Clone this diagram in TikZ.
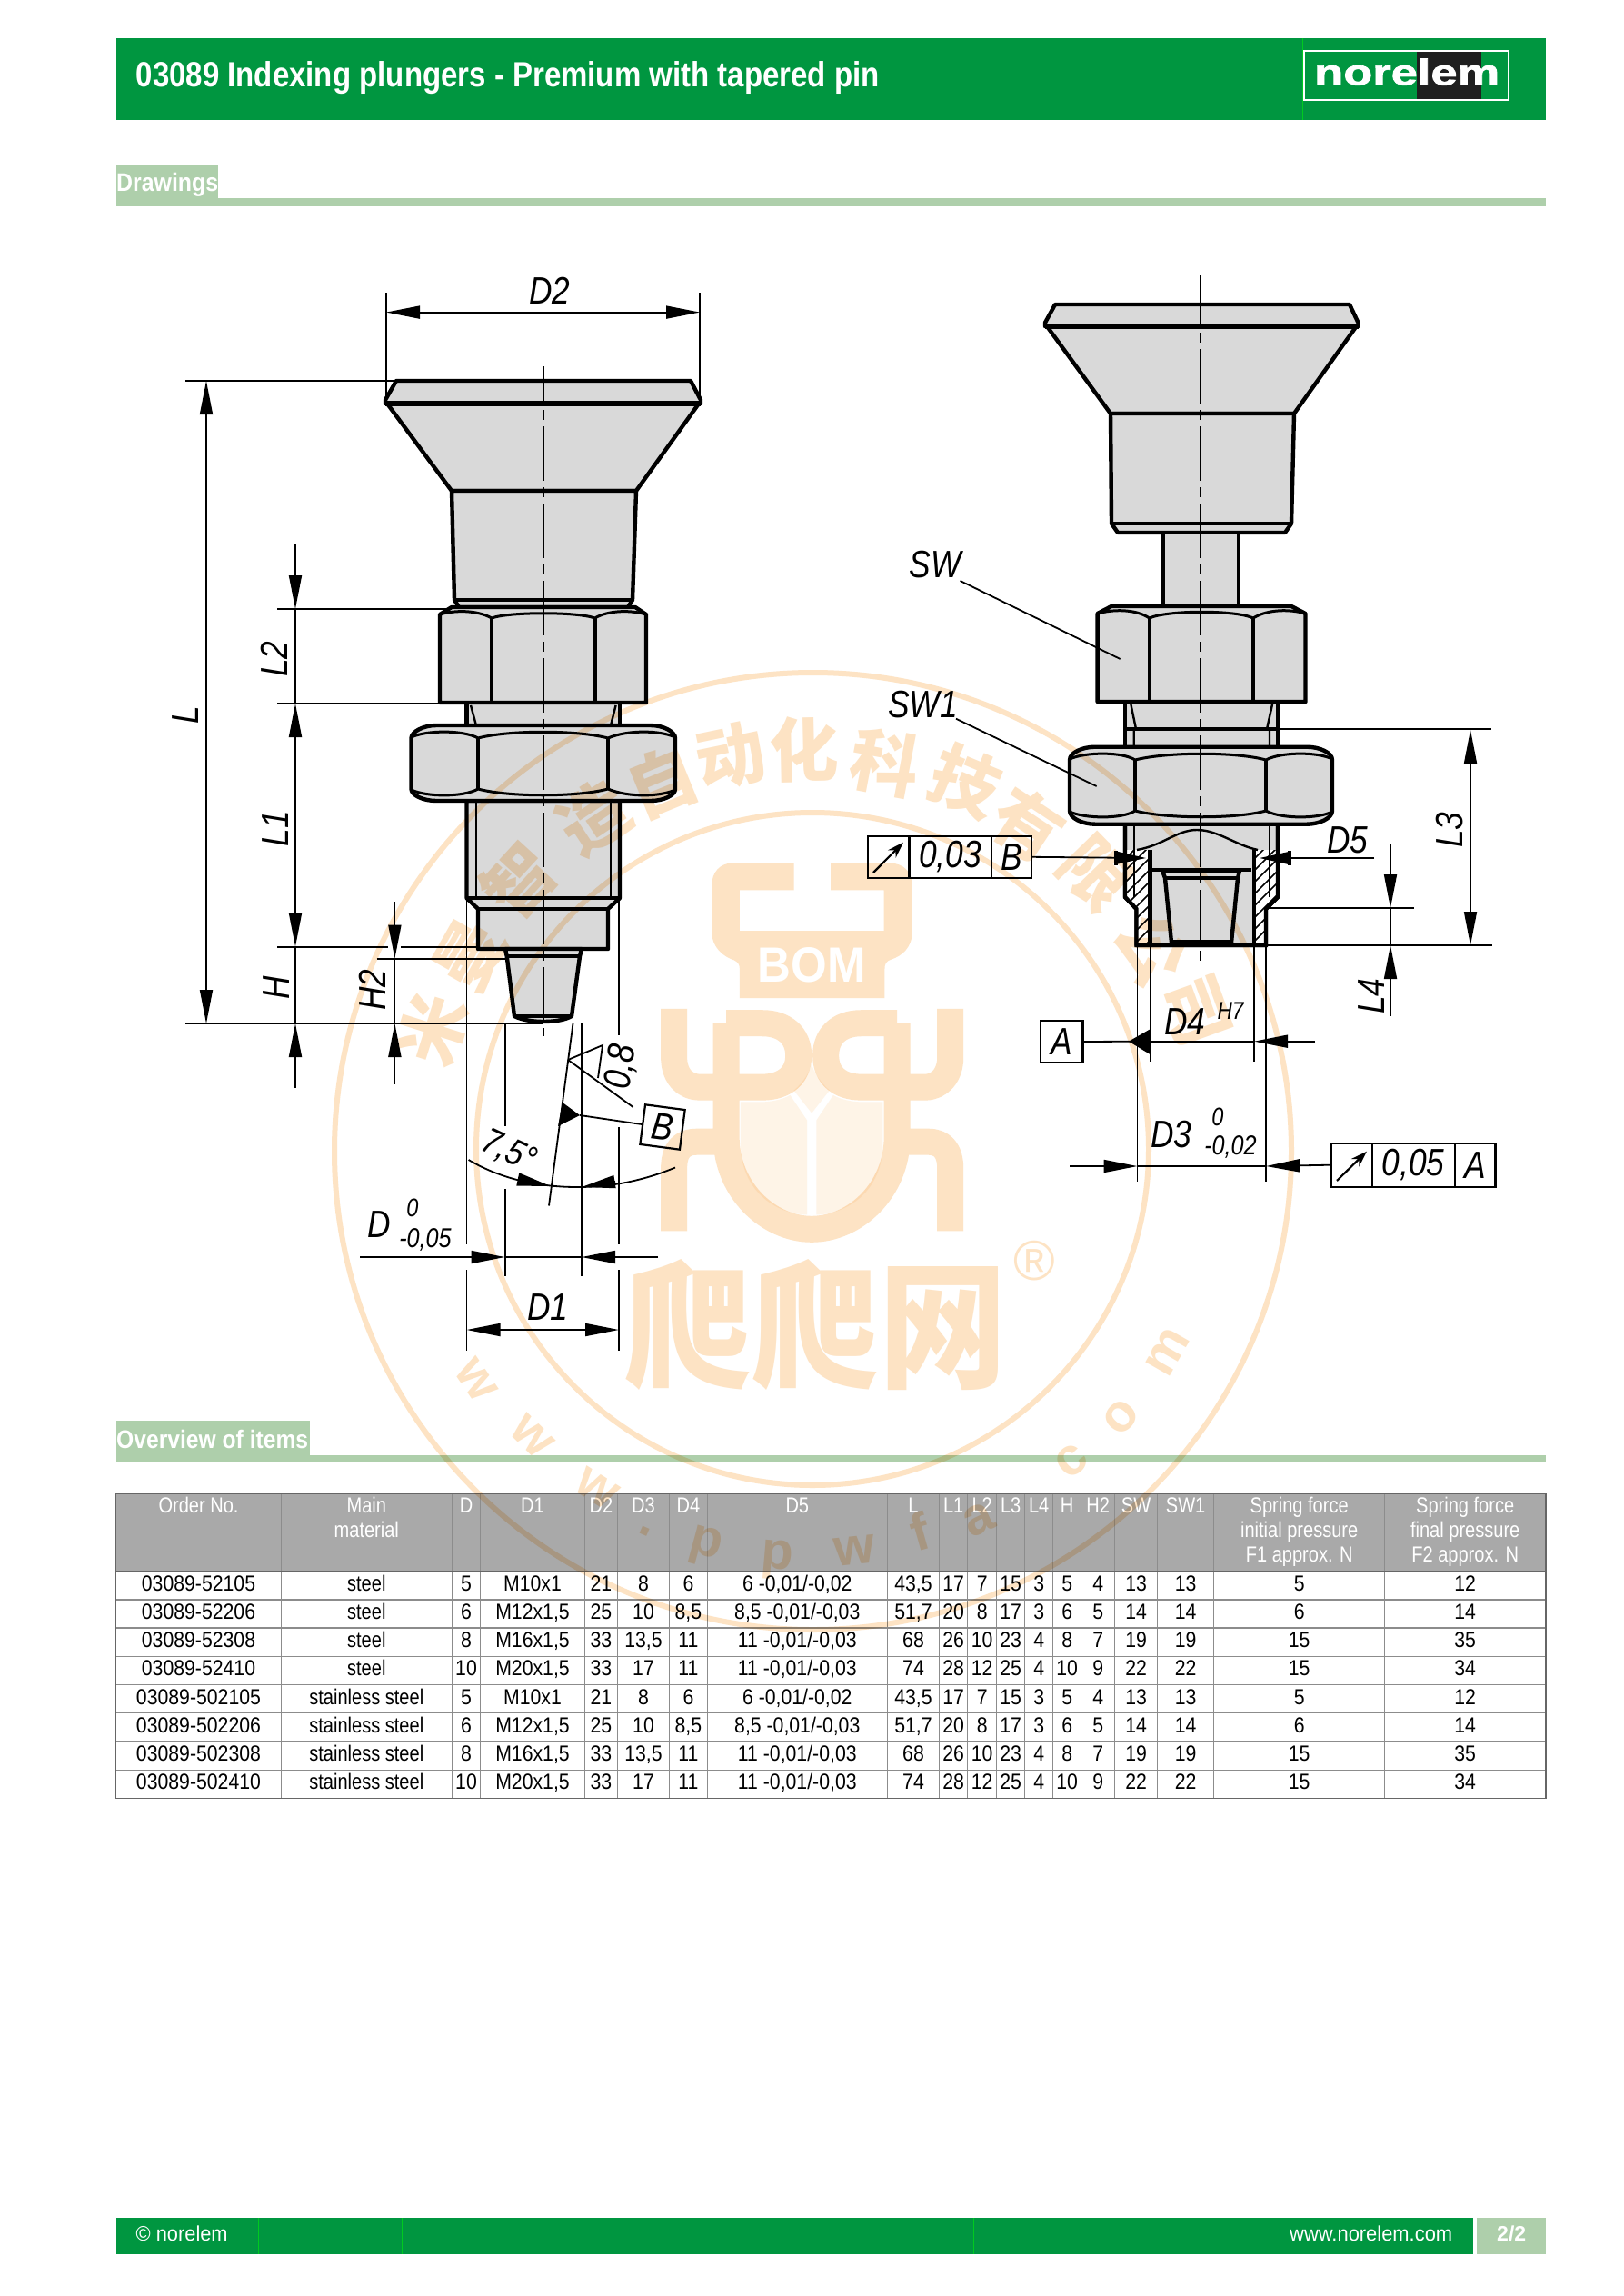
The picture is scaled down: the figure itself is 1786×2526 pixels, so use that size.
\documentclass[tikz,border=0pt]{standalone}
\usepackage{fontspec}
\usepackage{graphicx}
\usetikzlibrary{arrows.meta}
\setmainfont{Liberation Sans}
\newfontfamily\libf{Liberation Sans}
\newfontfamily\logof[FakeBold=1.6]{Liberation Sans}
\newfontfamily\dimf[FakeStretch=0.84]{Liberation Sans}
\newfontfamily\tblf[FakeStretch=0.835]{Liberation Sans}
\newfontfamily\tblg[FakeStretch=0.885]{Liberation Sans}
\newfontfamily\cjkf{Noto Sans CJK SC}
\definecolor{ngreen}{HTML}{009640}
\definecolor{npale}{HTML}{AECFAB}
\definecolor{ngray}{HTML}{D9D9D9}
\definecolor{thead}{HTML}{A9A9A9}
\definecolor{wmark}{HTML}{FDE3C4}
\definecolor{wlight}{HTML}{FEF4E7}
\newcount\cellno
\newcommand\fitw[2]{\resizebox{#1}{\height}{#2}}
\newcommand\cell[3]{\global\advance\cellno by 1 \node[cellt,name=cell\the\cellno] at (#1,{1741.7+31.2*(#2-1)}) {#3};}
\newcommand\col[9]{\cell{#1}{1}{#2}\cell{#1}{2}{#3}\cell{#1}{3}{#4}\cell{#1}{4}{#5}\cell{#1}{5}{#6}\cell{#1}{6}{#7}\cell{#1}{7}{#8}\cell{#1}{8}{#9}}
\tikzset{
  obj/.style={draw=black,fill=ngray,line width=4.4pt,line join=round},
  ln/.style={draw=black,line width=4.4pt},
  thinl/.style={draw=black,line width=2.4pt},
  dimn/.style={draw=black,line width=1.8pt},
  center line/.style={draw=black,line width=1.8pt,dash pattern=on 60pt off 7pt on 11pt off 7pt},
  lbl/.style={inner sep=0pt,font=\dimf\itshape\fontsize{#1pt}{#1pt}\selectfont},
  lbl/.default=42,
  fcf/.style={draw=black,line width=2.2pt,inner sep=0pt,minimum height=46pt,font=\dimf\itshape\fontsize{42pt}{42pt}\selectfont},
  cellt/.style={inner sep=0pt,text height=17pt,text depth=0pt,font=\tblg\fontsize{24pt}{24pt}\selectfont},
  hdt/.style={inner sep=0pt,text=white,text height=17pt,text depth=0pt,font=\tblf\fontsize{24pt}{24pt}\selectfont},
  whl/.style={inner sep=0pt,anchor=base west,text=white},
  wml/.style={inner sep=0pt,text=wmark},
  limb/.style={draw=wmark,line width=29pt,line join=round},
  >={Triangle[length=37pt,width=14pt]},
}
\begin{document}
\begin{tikzpicture}[x=1pt,y=-1pt]
\useasboundingbox (0,0) rectangle (1786,2526);
\fill[white] (0,0) rectangle (1786,2526);
% header
\fill[ngreen] (128,42) rectangle (1701,132);
\draw[green!50!ngreen,line width=.6pt] (1433,42)--(1433,132);
\node[whl,font=\libf\bfseries\fontsize{38.6pt}{38.6pt}\selectfont] (title) at (149.5,96) {\fitw{818pt}{03089 Indexing plungers - Premium with tapered pin}};
\fill[black!88] (1559,56.5) rectangle (1629.5,109);
\draw[white,line width=2.6pt] (1435,56) rectangle (1660,110);
\node[whl,font=\logof\bfseries\fontsize{40pt}{40pt}\selectfont] (logo) at (1446,93.5) {\fitw{204pt}{norelem}};
% section bars
\fill[npale] (128,181) rectangle (240,227);
\fill[npale] (128,218) rectangle (1701,227);
\node[whl,font=\libf\bfseries\fontsize{28pt}{28pt}\selectfont] (sec1) at (128,210.7) {\fitw{112pt}{Drawings}};
\fill[npale] (128,1563) rectangle (340.5,1609);
\fill[npale] (128,1600.7) rectangle (1701,1609);
\node[whl,font=\libf\bfseries\fontsize{28pt}{28pt}\selectfont] (sec2) at (128,1593.3) {\fitw{211pt}{Overview of items}};
% footer
\fill[ngreen] (128,2440) rectangle (1621,2480);
\fill[npale] (1625,2440) rectangle (1701,2480);
\draw[green!50!ngreen,line width=.5pt] (284,2440)--(284,2480) (442,2440)--(442,2480) (1071,2440)--(1071,2480);
\node[whl,font=\libf\fontsize{23pt}{23pt}\selectfont] (fa) at (149.5,2465) {\fitw{101pt}{© norelem}};
\node[whl,font=\libf\fontsize{23pt}{23pt}\selectfont] (fb) at (1419,2465) {\fitw{179pt}{www.norelem.com}};
\node[whl,font=\libf\bfseries\fontsize{23pt}{23pt}\selectfont] (fc) at (1647,2465) {\fitw{32pt}{2/2}};

%%%%%% left plunger
\draw[obj] (436,419)--(760,419)--(771,440)--(771,444)--(424,444)--(424,440)--cycle;
\draw[obj] (426,444)--(769,444)--(700,540)--(497,540)--cycle;
\draw[ln,line width=6pt] (424,444)--(771,444);
\draw[obj] (497,540)--(700,540)--(696,660)--(691,668)--(505,668)--(500,660)--cycle;
\draw[ln] (500,660)--(696,660);
% neck
\draw[obj] (513.5,772)--(682,772)--(682,800)--(513.5,800)--cycle;
\draw[thinl] (518,776)--(524,798) (677.6,776)--(672,798);
% nut SW
\draw[obj] (497,668)--(699,668)--(711,676)--(711,773)--(484,773)--(484,676)--cycle;
\draw[ln] (541,680)--(541,773) (654.5,680)--(654.5,773);
\draw[thinl,line width=3pt] (484,676) .. controls (500,671) and (525,671) .. (541,680) .. controls (560,673) and (636,673) .. (654.5,680) .. controls (670,671) and (695,671) .. (711,676);
% thread
\draw[obj] (513.5,881)--(682,881)--(682,988)--(669,1000)--(669,1044)--(526,1044)--(526,1000)--(513.5,988)--cycle;
\draw[ln] (513.5,988)--(682,988) (526,1000)--(669,1000);
\draw[thinl] (524,881)--(524,988) (672,881)--(672,988);
% lock nut
\draw[obj] (480,798)--(716,798) .. controls (730,798) and (743,805) .. (743,812)--(743,868) .. controls (743,875) and (730,881) .. (716,881)--(480,881) .. controls (466,881) and (452.5,875) .. (452.5,868)--(452.5,812) .. controls (452.5,805) and (466,798) .. (480,798)--cycle;
\draw[ln] (526,812)--(526,868) (669,812)--(669,868);
\draw[thinl,line width=3pt] (452.5,811) .. controls (470,803) and (510,803) .. (526,812) .. controls (560,803) and (635,803) .. (669,812) .. controls (690,803) and (725,803) .. (743,811);
\draw[thinl,line width=3pt] (452.5,869) .. controls (470,877) and (510,877) .. (526,868) .. controls (560,877) and (635,877) .. (669,868) .. controls (690,877) and (725,877) .. (743,869);
% pin
\draw[obj] (556,1044)--(640,1044)--(638,1052)--(629,1118) .. controls (615,1126) and (582,1126) .. (566,1118)--(557.7,1052)--cycle;
\draw[ln,line width=3.4pt] (557.7,1052)--(638,1052);
\draw[ln] (566,1118)--(629,1118);
% centre line
\draw[center line,dash phase=19pt] (598,403)--(598,1140);
% dimensions left
\draw[dimn] (425,322)--(425,436) (770,322)--(770,436);
\draw[dimn,<->] (425,343.6)--(770,343.6);
\node[lbl] (tD2) at (605,320) {D2};
\draw[dimn] (204,419)--(436,419);
\draw[dimn,<->] (227,419)--(227,1126);
\node[lbl,rotate=90] (tL) at (204,787) {L};
\draw[dimn,->] (325,598)--(325,670);
\draw[dimn] (305,670)--(497,670) (305,774)--(484,774) (325,670)--(325,774);
\node[lbl,rotate=90] (tL2) at (302,725) {L2};
\draw[dimn,<->] (325,774)--(325,1041.6);
\node[lbl,rotate=90] (tL1) at (303,911.5) {L1};
\draw[dimn] (305,1041.6)--(427,1041.6) (441,1041.6)--(526,1041.6);
\draw[dimn] (414.6,1054.6)--(556,1054.6);
\draw[dimn] (204,1126)--(598,1126);
\draw[dimn] (325,1041.6)--(325,1126);
\draw[dimn,<-] (325,1126)--(325,1196.5);
\node[lbl,rotate=90] (tH) at (304,1087) {H};
\draw[dimn,->] (434.4,992)--(434.4,1054.6);
\draw[dimn] (434.4,1054.6)--(434.4,1126);
\draw[dimn,<-] (434.4,1126)--(434.4,1193.4);
\node[lbl,rotate=90] (tH2) at (410,1089) {H2};
% extension lines
\draw[dimn] (513.5,988)--(513.5,1369) (513.5,1397)--(513.5,1486);
\draw[dimn] (681,988)--(681,1139) (681,1240)--(681,1369) (681,1397)--(681,1486);
\draw[dimn] (555.6,1126)--(555.6,1239) (555.6,1308)--(555.6,1404);
\draw[dimn] (640,1125)--(640,1404);
% taper
\draw[dimn] (630.5,1126)--(604,1326.5);
\draw[dimn] (625,1166)--(696.6,1218);
\draw[dimn,line join=miter] (625,1166)--(663,1150)--(658,1186);
\node[lbl,rotate=82.5] (t08) at (684,1174) {0,8};
\node[fcf,minimum width=44pt,minimum height=44pt,rotate=-7.5] (boxB) at (729,1240) {B};
\draw[dimn] (boxB.west)--(638,1227);
\fill[black] (619,1213)--(614,1239)--(638,1227)--cycle;
\draw[dimn] (515.6,1276) .. controls (556,1300) and (600,1306) .. (635.6,1306) .. controls (675,1306) and (710,1298) .. (743,1284.5);
\draw[dimn,->] (570,1297.5)--(606,1305);
\draw[dimn,->] (677,1300)--(640,1306);
\node[lbl=40,rotate=-25] (t75) at (560,1267) {7,5°};
\draw[dimn,->] (396,1383)--(555.6,1383);
\draw[dimn] (555.6,1383)--(640,1383);
\draw[dimn,->] (724,1383)--(640,1383);
\node[lbl=42] (tD) at (417.6,1347) {D};
\node[lbl=28] (tD0) at (454,1329) {0};
\node[lbl=30] (tDs) at (468,1364) {-0,05};
\draw[dimn,<->] (513.5,1463)--(681,1463);
\node[lbl] (tD1) at (603,1438) {D1};

%%%%%% right plunger
\draw[obj] (1161,335)--(1485,335)--(1494.5,355)--(1494.5,359)--(1150,359)--(1150,355)--cycle;
\draw[obj] (1152,359)--(1492.5,359)--(1424,455)--(1222,455)--cycle;
\draw[ln,line width=6pt] (1150,359)--(1494.5,359);
\draw[obj] (1222,455)--(1424,455)--(1421,576)--(1414,586)--(1230,586)--(1223,576)--cycle;
\draw[ln,line width=3.4pt] (1223,576)--(1421,576);
\draw[obj] (1280,586)--(1363,586)--(1363,666)--(1280,666)--cycle;
\draw[obj] (1238,772)--(1406,772)--(1406,822)--(1238,822)--cycle;
\draw[ln,line width=3.4pt] (1238,802)--(1406,802);
\draw[thinl] (1244.4,775)--(1250,802) (1400,775)--(1394,802) (1247.7,802)--(1247.7,822) (1397,802)--(1397,822);
\draw[obj] (1223,667)--(1421,667)--(1436.5,675)--(1436.5,772)--(1207.6,772)--(1207.6,675)--cycle;
\draw[ln] (1264.7,680)--(1264.7,772) (1379,680)--(1379,772);
\draw[thinl,line width=3pt] (1207.6,675) .. controls (1225,670) and (1250,670) .. (1264.7,680) .. controls (1285,671) and (1360,671) .. (1379,680) .. controls (1395,670) and (1420,670) .. (1436.5,675);
% lower part
\draw[obj] (1238,905)--(1406,905)--(1406,987)--(1393,1000)--(1393,1040)--(1250.5,1040)--(1250.5,1000)--(1238,987)--cycle;
\fill[white] (1238,935)--(1265.6,935)--(1265.6,1040)--(1250.5,1040)--(1250.5,1000)--(1238,987)--cycle;
\fill[white] (1406,935)--(1380,935)--(1380,1040)--(1393,1040)--(1393,1000)--(1406,987)--cycle;
\begin{scope}
\clip (1238,935)--(1265.6,935)--(1265.6,1040)--(1250.5,1040)--(1250.5,1000)--(1238,987)--cycle (1406,935)--(1380,935)--(1380,1040)--(1393,1040)--(1393,1000)--(1406,987)--cycle;
\foreach \k in {940,953,...,1120} {\draw[black,line width=1.6pt] (1230,\k)--(1280,\k-50);}
\foreach \k in {940,953,...,1120} {\draw[black,line width=1.6pt] (1372,\k)--(1422,\k-50);}
\end{scope}
\draw[ln] (1238,905)--(1238,987)--(1250.5,1000)--(1250.5,1040)--(1393,1040)--(1393,1000)--(1406,987)--(1406,905);
\draw[ln] (1265.6,935)--(1265.6,1040) (1380,935)--(1380,1040);
\draw[ln] (1268,957)--(1376.5,957);
\draw[thinl] (1247.7,907)--(1247.7,987) (1397,907)--(1397,987);
\draw[thinl] (1251,935) .. controls (1280,930) and (1295,913) .. (1317,913) .. controls (1340,913) and (1360,930) .. (1384,935);
\draw[obj] (1279,958)--(1364,958)--(1362,966)--(1355,1037)--(1289,1037)--(1282,966)--cycle;
\draw[ln] (1282,966)--(1362,966) (1289,1036)--(1355,1036);
\draw[obj] (1205,821.7)--(1438,821.7) .. controls (1452,821.7) and (1466,828) .. (1466,836)--(1466,892) .. controls (1466,900) and (1452,906.7) .. (1438,906.7)--(1205,906.7) .. controls (1191,906.7) and (1177,900) .. (1177,892)--(1177,836) .. controls (1177,828) and (1191,821.7) .. (1205,821.7)--cycle;
\draw[ln] (1249,836)--(1249,892) (1393,836)--(1393,892);
\draw[thinl,line width=3pt] (1177,835) .. controls (1195,827) and (1235,827) .. (1249,836) .. controls (1285,827) and (1360,827) .. (1393,836) .. controls (1410,827) and (1450,827) .. (1466,835);
\draw[thinl,line width=3pt] (1177,893) .. controls (1195,901) and (1235,901) .. (1249,892) .. controls (1285,901) and (1360,901) .. (1393,892) .. controls (1410,901) and (1450,901) .. (1466,893);
\draw[center line,dash phase=4pt] (1321,303)--(1321,1057);
% right dims
\node[lbl] (tSW) at (1029,621) {SW};
\coordinate (sweA) at (1232.6,725);
\draw[dimn] (1056.6,639)--(sweA);
\node[lbl] (tSW1) at (1015.5,774.6) {SW1};
\coordinate (sweB) at (1206.6,865);
\draw[dimn] (1052,790.7)--(sweB);
\draw[dimn] (1406,802)--(1641,802);
\draw[dimn,<->] (1618,803)--(1618,1040);
\node[lbl,rotate=90] (tL3) at (1595,913) {L3};
\draw[dimn] (1393,1040)--(1642,1040);
\draw[dimn] (1395,999)--(1556,999);
\draw[dimn,->] (1530,928)--(1530,999);
\draw[dimn] (1530,999)--(1530,1040);
\draw[dimn,<-] (1530,1040)--(1530,1118);
\node[lbl,rotate=90] (tL4) at (1508.7,1096) {L4};
\node[fcf,minimum width=45.4pt] (fa1) at (977.7,942.8) {};
\node[fcf,minimum width=90.6pt] (fa2) at (1045.7,942.8) {0,03};
\node[fcf,minimum width=44pt] (fa3) at (1113,942.8) {B};
\draw[dimn,line width=2.2pt,-{Stealth[length=18pt,width=12pt]}] (961,960)--(994,926.7);
\draw[dimn,-{Triangle[length=33pt,width=14pt]}] (fa3.east)--(1261,944);
\draw[dimn,-{Triangle[length=33pt,width=14pt]}] (1512,944)--(1386,944);
\draw[dimn,line width=3.4pt] (1419,936)--(1419,952) (1228,936)--(1228,952);
\node[lbl] (tD5) at (1482.7,924) {D5};
\draw[dimn] (1265.6,1040)--(1265.6,1168) (1380,1040)--(1380,1168);
\draw[dimn] (1251.5,1040)--(1251.5,1300) (1393,1040)--(1393,1300);
\node[fcf,minimum width=46.5pt] (boxA) at (1168.3,1146) {A};
\draw[dimn] (boxA.east)--(1250,1145.7);
\fill[black] (1242,1145.7)--(1266.6,1131.7)--(1266.6,1160.7)--cycle;
\draw[dimn] (1266,1145.7)--(1380,1145.7);
\draw[dimn,->] (1447,1145.7)--(1380,1145.7);
\node[lbl] (tD4) at (1304,1124) {D4};
\node[lbl=27] (tH7) at (1354,1112) {H7};
\draw[dimn,->] (1177,1283)--(1251.5,1283);
\draw[dimn] (1251.5,1283)--(1393,1283);
\node[fcf,minimum width=44.6pt,minimum height=48pt] (ga1) at (1487.3,1281.7) {};
\node[fcf,minimum width=91.1pt,minimum height=48pt] (ga2) at (1555.2,1281.7) {0,05};
\node[fcf,minimum width=44.8pt,minimum height=48pt] (ga3) at (1623.1,1281.7) {A};
\draw[dimn,->] (ga1.west)--(1393,1283);
\draw[dimn,line width=2.2pt,-{Stealth[length=18pt,width=12pt]}] (1471,1299)--(1504,1266.7);
\node[lbl] (tD3) at (1289,1248) {D3};
\node[lbl=28] (tD30) at (1340,1229) {0};
\node[lbl=30] (tD3s) at (1354,1262) {-0,02};

%%%%%% table
\fill[thead] (127.7,1643.3) rectangle (1701,1728.3);
\foreach \x in {309.2,497.4,528.7,643.3,679.5,736.6,778.2,976.4,1033.7,1064.7,1096.7,1127.7,1158.7,1189.8,1226.6,1273.6,1335.7,1523.7}{
  \draw[black!45,line width=1.1pt] (\x,1643.3)--(\x,1978.3);
}
\foreach \y in {1760,1791,1822.3,1853.3,1884.3,1916,1947.3}{
  \draw[black!45,line width=1.3pt] (127.7,\y)--(1701,\y);
}
\draw[black!60,line width=1.4pt] (127.7,1643.3) rectangle (1701,1978.3);
\draw[black!60,line width=1.2pt] (127.7,1728.3)--(1701,1728.3);
\foreach \x/\t [count=\i] in {218.5/Order No.,513/D,586/D1,661.4/D2,708/D3,757.4/D4,877.3/D5,1005/L,1049.2/L1,1080.7/L2,1112.2/L3,1143.2/L4,1174.2/H,1208.2/H2,1250.1/SW,1304.6/SW1}{
  \node[hdt] (hd\i) at (\x,1656) {\t};
}
\node[hdt] (hM1) at (403.3,1656) {Main};
\node[hdt] (hM2) at (403.3,1683.3) {material};
\node[hdt] (hF1) at (1429.7,1656) {Spring force};
\node[hdt] (hF2) at (1429.7,1683.3) {initial pressure};
\node[hdt] (hF3) at (1429.7,1710) {F1 approx. N};
\node[hdt] (hG1) at (1612.2,1656) {Spring force};
\node[hdt] (hG2) at (1612.2,1683.3) {final pressure};
\node[hdt] (hG3) at (1612.2,1710) {F2 approx. N};
\col{218.5}{03089-52105}{03089-52206}{03089-52308}{03089-52410}{03089-502105}{03089-502206}{03089-502308}{03089-502410}
\col{403.3}{\tblf steel}{\tblf steel}{\tblf steel}{\tblf steel}{\tblf stainless steel}{\tblf stainless steel}{\tblf stainless steel}{\tblf stainless steel}
\col{513}{5}{6}{8}{10}{5}{6}{8}{10}
\col{586}{M10x1}{M12x1,5}{M16x1,5}{M20x1,5}{M10x1}{M12x1,5}{M16x1,5}{M20x1,5}
\col{661.4}{21}{25}{33}{33}{21}{25}{33}{33}
\col{708}{8}{10}{13,5}{17}{8}{10}{13,5}{17}
\col{757.4}{6}{8,5}{11}{11}{6}{8,5}{11}{11}
\col{877.3}{6 -0,01/-0,02}{8,5 -0,01/-0,03}{11 -0,01/-0,03}{11 -0,01/-0,03}{6 -0,01/-0,02}{8,5 -0,01/-0,03}{11 -0,01/-0,03}{11 -0,01/-0,03}
\col{1005}{43,5}{51,7}{68}{74}{43,5}{51,7}{68}{74}
\col{1049.2}{17}{20}{26}{28}{17}{20}{26}{28}
\col{1080.7}{7}{8}{10}{12}{7}{8}{10}{12}
\col{1112.2}{15}{17}{23}{25}{15}{17}{23}{25}
\col{1143.2}{3}{3}{4}{4}{3}{3}{4}{4}
\col{1174.2}{5}{6}{8}{10}{5}{6}{8}{10}
\col{1208.2}{4}{5}{7}{9}{4}{5}{7}{9}
\col{1250.1}{13}{14}{19}{22}{13}{14}{19}{22}
\col{1304.6}{13}{14}{19}{22}{13}{14}{19}{22}
\col{1429.7}{5}{6}{15}{15}{5}{6}{15}{15}
\col{1612.2}{12}{14}{35}{34}{12}{14}{35}{34}

%%%%%% watermark
\begin{scope}[blend mode=multiply]
\draw[wmark,line width=6pt] (894.5,1266.5) circle (526.5pt) (894,1264) circle (370pt);
\foreach \x/\y/\c [count=\i] in {476/1133/米,517/1051/曼,571/969/智,653/900/造,728.5/860/自,803.6/832/动,885/825/化,974/839/科,1063/860/技,1131/907/有,1206/962/限,1267.6/1044/公,1315/1112/司}{
  \pgfmathsetmacro{\r}{-atan2(\x-894,1265-\y)}
  \node[wml,rotate=\r,font=\cjkf\bfseries\fontsize{76pt}{76pt}\selectfont] (wc\i) at (\x,\y) {\c};
}
\foreach \x/\y/\c [count=\i] in {524/1518/w,585/1580/w,657/1637.6/w,710/1685/.,776/1702/p,855/1716/p,940/1706/w,1012/1685/f,1076.5/1672/a,1179/1607/c,1233.5/1559/o,1284.7/1487.5/m}{
  \pgfmathsetmacro{\r}{atan2(\x-894,\y-1265)}
  \node[wml,rotate=\r,font=\libf\bfseries\fontsize{58pt}{58pt}\selectfont] (wu\i) at (\x,\y) {\c};
}
\node[wml,font=\libf\fontsize{62pt}{62pt}\selectfont] (wr) at (1138,1387) {®};
\node[wml] (wp) at (897,1458) {\resizebox{422pt}{130pt}{\cjkf\bfseries 爬爬网}};
\begin{scope}[shift={(660,930)},x=0.3444pt,y=-0.3954pt]
\fill[wmark] (620,50)--(420,50) .. controls (385,50) and (358,75) .. (358,110)--(358,240) .. controls (358,285) and (395,310) .. (430,320) .. controls (440,325) and (447,330) .. (447,345)--(447,425)--(910,425)--(910,345) .. controls (910,330) and (915,322) .. (930,318) .. controls (965,308) and (998,285) .. (998,240)--(998,110) .. controls (998,75) and (970,50) .. (930,50)--(738,50)--(738,125)--(908,125)--(908,238)--(447,238)--(447,125)--(620,125)--cycle;
\fill[wlight] (450,714)--(525,714) .. controls (570,712) and (600,700) .. (608,695)--(662,765)--(662,1028) .. controls (560,1025) and (450,960) .. (450,830)--cycle
  (904,714)--(829,714) .. controls (784,712) and (754,700) .. (746,695)--(692,765)--(692,1028) .. controls (794,1025) and (904,960) .. (904,830)--cycle
  (620,682)--(677,745)--(734,682) .. controls (705,660) and (682,630) .. (677,608) .. controls (672,630) and (650,660) .. (620,682)--cycle;
\draw[limb] (237,455)--(237,590) .. controls (237,640) and (270,673) .. (320,673)--(404,673)
  (1120,455)--(1120,590) .. controls (1120,640) and (1085,673) .. (1040,673)--(950,673)
  (237,1073)--(237,900) .. controls (237,850) and (260,825) .. (310,825)--(404,825)
  (1120,1073)--(1120,900) .. controls (1120,850) and (1095,825) .. (1050,825)--(950,825)
  (404,495)--(404,810) .. controls (404,960) and (540,1068) .. (677,1068) .. controls (815,1068) and (950,960) .. (950,810)--(950,495)
  (404,495)--(520,495) .. controls (590,495) and (635,530) .. (635,585) .. controls (635,640) and (590,673) .. (520,673)--(404,673)
  (950,495)--(835,495) .. controls (765,495) and (722,530) .. (722,585) .. controls (722,640) and (765,673) .. (835,673)--(950,673);
\end{scope}
\end{scope}
\node[inner sep=0pt,text=white] (wb) at (893.1,1061.3) {\resizebox{119pt}{38pt}{\libf\bfseries BOM}};
\end{tikzpicture}
\end{document}
